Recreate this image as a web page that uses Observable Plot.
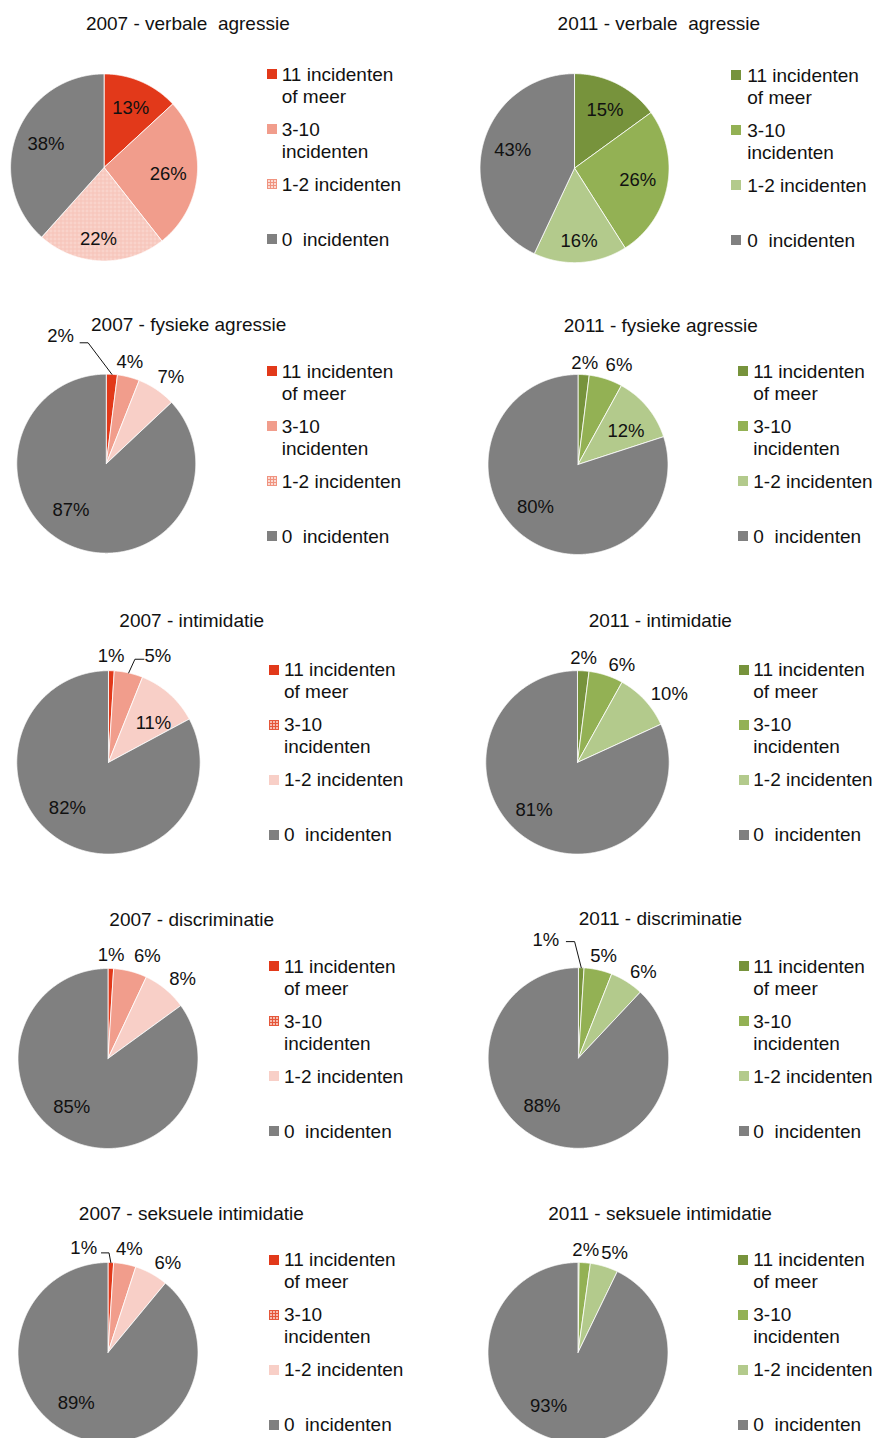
<!DOCTYPE html>
<html><head><meta charset="utf-8">
<script src="https://cdn.jsdelivr.net/npm/d3@7"></script>
<script src="https://cdn.jsdelivr.net/npm/@observablehq/plot@0.6"></script>
<style>
body{margin:0;background:#fff;}
#root{position:relative;width:876px;height:1438px;overflow:hidden;font-family:"Liberation Sans",Arial,sans-serif;color:#111;}
.title{position:absolute;font-size:19px;line-height:22px;white-space:pre;transform:translate(-50%,-50%);}
.leg{position:absolute;font-size:19px;line-height:22px;white-space:pre;}
.sw{position:absolute;width:10px;height:10px;display:block;}
.pie{position:absolute;}
</style></head><body>
<svg width="0" height="0" style="position:absolute">
<defs>
<pattern id="gridSlice" width="4" height="4" patternUnits="userSpaceOnUse">
<rect width="4" height="4" fill="#F9D3CB"/><path d="M0 0.5H4M0.5 0V4" stroke="#F6C3B8" stroke-width="1"/>
</pattern>
<pattern id="gridSw12" width="3" height="3" patternUnits="userSpaceOnUse">
<rect width="3" height="3" fill="#FBDAD3"/><path d="M0 0.5H3M0.5 0V3" stroke="#F0937F" stroke-width="1"/>
</pattern>
<pattern id="gridSw310" width="3" height="3" patternUnits="userSpaceOnUse">
<rect width="3" height="3" fill="#F7BBAE"/><path d="M0 0.5H3M0.5 0V3" stroke="#E5573A" stroke-width="1"/>
</pattern>
</defs>
</svg>
<div id="root"></div>
<script>
// ---- data ----
const categories = ["11 incidenten\nof meer", "3-10\nincidenten", "1-2 incidenten", "0  incidenten"];
const titles = [
  "2007 - verbale  agressie", "2011 - verbale  agressie",
  "2007 - fysieke agressie", "2011 - fysieke agressie",
  "2007 - intimidatie", "2011 - intimidatie",
  "2007 - discriminatie", "2011 - discriminatie",
  "2007 - seksuele intimidatie", "2011 - seksuele intimidatie"
];
const verbale2007 = [13, 26, 22, 38];
const verbale2011 = [15, 26, 16, 43];
const fysiek2007 = [2, 4, 7, 87];
const fysiek2011 = [2, 6, 12, 80];
const intim2007 = [1, 5, 11, 82];
const intim2011 = [2, 6, 10, 81];
const discr2007 = [1, 6, 8, 85];
const discr2011 = [1, 5, 6, 88];
const seks2007 = [1, 4, 6, 89];
const seks2011 = [0.2, 2, 5, 93];
const series = [verbale2007, verbale2011, fysiek2007, fysiek2011, intim2007, intim2011, discr2007, discr2011, seks2007, seks2011];

// ---- styles ----
const red = ["#E2391A", "#F19D8C", "#F8CFC7", "#808080"];
const green = ["#77933C", "#93B154", "#B3CA8C", "#808080"];

// ---- layout (placement only) ----
const layout = [
  {cx:103.5, cy:166.5, r:93.5, tx:187.8, ty:24.2, lx:266.7, td:15},
  {cx:574.5, cy:167.3, r:94.5, tx:658.8, ty:24.2, lx:731, td:16.3},
  {cx:105.5, cy:463.5, r:89.5, tx:188.7, ty:325.3, lx:266.7, td:15},
  {cx:577.3, cy:463.5, r:90, tx:660.8, ty:326, lx:738.3, td:15},
  {cx:107.7, cy:761.7, r:91.7, tx:191.7, ty:621.3, lx:269.3, td:14.7},
  {cx:577.3, cy:761.7, r:91.7, tx:660.3, ty:621.3, lx:739, td:14.3},
  {cx:107.3, cy:1058.3, r:90, tx:191.7, ty:919.7, lx:269.3, td:14.7},
  {cx:578, cy:1058, r:90.3, tx:660.3, ty:919.2, lx:739, td:14.3},
  {cx:107.3, cy:1351.7, r:90, tx:191.3, ty:1213.7, lx:269.3, td:14.7},
  {cx:577.3, cy:1351.7, r:90, tx:660, ty:1214, lx:738.3, td:15}
];
// label placement: [radius factor, angle offset in degrees] per slice
const labelPlace = [
  [[.70,.4],[.69,1.3],[.77,2.6],[.67,1]],
  [[.69,.8],[.68,-.4],[.77,0],[.68,3.4]],
  [[1.51,-23.4],[1.17,-1.4],[1.21,2.4],[.65,14]],
  [[1.13,.2],[1.19,4.5],[.65,4.8],[.67,8.9]],
  [[1.16,-.4],[1.28,12.2],[.65,7.2],[.67,11.1]],
  [[1.14,-.3],[1.17,6.2],[1.25,6],[.70,9.8]],
  [[1.15,-.1],[1.22,6.6],[1.21,3.7],[.67,10]],
  [[1.36,-17.2],[1.16,1.3],[1.19,4.7],[.67,15.4]],
  [[1.19,-14.9],[1.17,.9],[1.2,4.9],[.66,12.6]],
  [null,[1.14,0],[1.18,3.3],[.68,15.8]]
];
// leader lines: {slice, [segment start px, segment end px, dy px]} relative to label
const leaders = [
  null, null,
  {slice:0, seg:[19.6, 27.6, 6.3]},
  null,
  {slice:1, seg:[-14, -23, 3.3]},
  null, null,
  {slice:0, seg:[20.5, 28.8, 2]},
  {slice:0, seg:[17.7, 25.3, 4.7]},
  null
];
const sliceFillOverride = {"0-2": "url(#gridSlice)"};
const swatchOverride = {"0-2": "url(#gridSw12)", "2-2": "url(#gridSw12)", "4-1": "url(#gridSw310)", "6-1": "url(#gridSw310)", "8-1": "url(#gridSw310)"};
const legendOffsets = [-91.5, -36.5, 18.5, 73.5];

const root = document.getElementById("root");
const X = 1.45, YT = 1.7, YB = 1.15;

series.forEach((values, p) => {
  const L = layout[p];
  const r = L.r;
  const palette = p % 2 === 0 ? red : green;
  const arcs = d3.pie().sort(null).value(d => d)(values);
  const marks = [];
  arcs.forEach((a, i) => {
    const pts = [{x:0, y:0}];
    const n = Math.max(2, Math.ceil((a.endAngle - a.startAngle) / (Math.PI / 720)));
    for (let k = 0; k <= n; k++) {
      const t = a.startAngle + (a.endAngle - a.startAngle) * k / n;
      pts.push({x: Math.sin(t), y: Math.cos(t)});
    }
    pts.push({x:0, y:0});
    const fill = sliceFillOverride[p + "-" + i] || palette[i];
    marks.push(Plot.line(pts, {x:"x", y:"y", fill, stroke:"white", strokeWidth:0.8, curve:"linear", strokeLinejoin:"miter"}));
  });
  const labels = [];
  arcs.forEach((a, i) => {
    const pl = labelPlace[p][i];
    if (!pl) return;
    const mid = (a.startAngle + a.endAngle) / 2 + pl[1] * Math.PI / 180;
    labels.push({x: pl[0] * Math.sin(mid), y: pl[0] * Math.cos(mid), text: Math.round(values[i]) + "%", i});
  });
  const ld = leaders[p];
  if (ld) {
    const a = arcs[ld.slice];
    const mid = (a.startAngle + a.endAngle) / 2;
    const lab = labels.find(d => d.i === ld.slice);
    const [s0, s1, dy] = ld.seg;
    const path = [
      {x: Math.sin(mid), y: Math.cos(mid)},
      {x: lab.x + s1 / r, y: lab.y - dy / r},
      {x: lab.x + s0 / r, y: lab.y - dy / r}
    ];
    marks.push(Plot.line(path, {x:"x", y:"y", stroke:"#111", strokeWidth:1, curve:"linear"}));
  }
  marks.push(Plot.text(labels, {x:"x", y:"y", text:"text", fill:"#111", fontSize:18.5}));
  const W = 2 * X * r, H = (YT + YB) * r;
  const svg = Plot.plot({
    width: W, height: H, margin: 0,
    x: {domain: [-X, X], axis: null},
    y: {domain: [-YB, YT], axis: null},
    style: {background: "transparent", overflow: "visible", fontFamily: '"Liberation Sans", Arial, sans-serif', color: "#111"},
    marks
  });
  const holder = document.createElement("div");
  holder.className = "pie";
  holder.style.left = (L.cx - X * r) + "px";
  holder.style.top = (L.cy - YT * r) + "px";
  holder.style.width = W + "px";
  holder.style.height = H + "px";
  holder.appendChild(svg);
  root.appendChild(holder);

  const t = document.createElement("div");
  t.className = "title";
  t.textContent = titles[p];
  t.style.left = L.tx + "px";
  t.style.top = L.ty + "px";
  root.appendChild(t);

  categories.forEach((c, i) => {
    const y = L.cy + legendOffsets[i];
    const sw = document.createElementNS("http://www.w3.org/2000/svg", "svg");
    sw.setAttribute("class", "sw");
    sw.setAttribute("width", 10); sw.setAttribute("height", 10);
    sw.style.left = L.lx + "px";
    sw.style.top = (y - 5.7) + "px";
    const rect = document.createElementNS("http://www.w3.org/2000/svg", "rect");
    rect.setAttribute("width", 10); rect.setAttribute("height", 10);
    rect.setAttribute("fill", swatchOverride[p + "-" + i] || palette[i]);
    sw.appendChild(rect);
    root.appendChild(sw);
    const d = document.createElement("div");
    d.className = "leg";
    d.textContent = c;
    d.style.left = (L.lx + L.td) + "px";
    d.style.top = (y - 11) + "px";
    root.appendChild(d);
  });
});
</script>
</body></html>
